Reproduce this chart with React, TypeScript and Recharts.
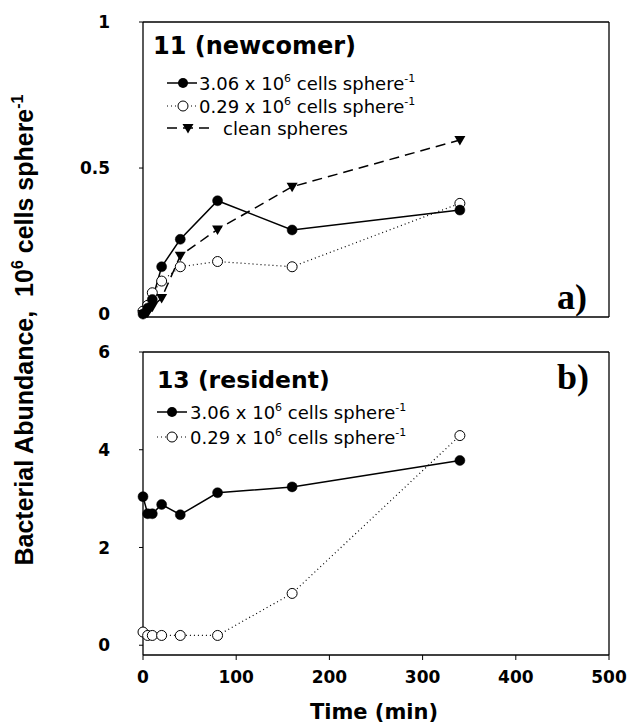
import React from 'react';
import { LineChart, Line, XAxis, YAxis, ReferenceLine } from 'recharts';

// ---- data ----
const times = [0, 5, 10, 20, 40, 80, 160, 340];
// panel a) strain 11 (newcomer), 10^6 cells sphere^-1
const aHigh = [0.0, 0.02, 0.05, 0.162, 0.256, 0.388, 0.288, 0.356];
const aLow = [0.01, 0.03, 0.073, 0.113, 0.162, 0.18, 0.162, 0.379];
const aClean = [0.0, 0.005, 0.025, 0.055, 0.2, 0.29, 0.436, 0.596];
// panel b) strain 13 (resident)
const bHigh = [3.04, 2.69, 2.69, 2.88, 2.67, 3.12, 3.24, 3.78];
const bLow = [0.27, 0.2, 0.2, 0.2, 0.2, 0.2, 1.06, 4.29];

const xTicks = [0, 100, 200, 300, 400, 500];
const aTicks = [0, 0.5, 1];
const bTicks = [0, 2, 4, 6];

const seriesLabelHigh = '3.06 x 10';
const seriesLabelLow = '0.29 x 10';
const seriesLabelClean = 'clean spheres';

const dataA = times.map((t, i) => ({ t, high: aHigh[i], low: aLow[i], clean: aClean[i] }));
const dataB = times.map((t, i) => ({ t, high: bHigh[i], low: bLow[i] }));

const tickFont = { fontFamily: 'DejaVu Sans', fontWeight: 700, fontSize: 17, fill: '#000' };
const axisStroke = { stroke: '#000', strokeWidth: 1.3 };

const filledDot = (p: any) => (
  <circle key={`f${p.index}`} cx={p.cx} cy={p.cy} r={5} fill="#000" stroke="#000" strokeWidth={0.5} />
);
const openDot = (p: any) => (
  <circle key={`o${p.index}`} cx={p.cx} cy={p.cy} r={5} fill="#fff" stroke="#000" strokeWidth={1} />
);
const triDot = (p: any) => (
  <polygon
    key={`t${p.index}`}
    points={`${p.cx - 5.5},${p.cy - 4} ${p.cx + 5.5},${p.cy - 4} ${p.cx},${p.cy + 5.5}`}
    fill="#000"
  />
);

const LegendLabel = ({ x, y, text }: { x: number; y: number; text: string }) => (
  <text x={x} y={y + 6.5} fontFamily="DejaVu Sans" fontSize={18} fill="#000" style={{ whiteSpace: 'pre' }}>
    {text}
    <tspan dy={-8} fontSize={11}>6</tspan>
    <tspan dy={8}> cells sphere</tspan>
    <tspan dy={-8} fontSize={11}>-1</tspan>
  </text>
);

export default function App() {
  return (
    <div style={{ position: 'absolute', left: 0, top: 0, width: 629, height: 726, background: '#fff' }}>
      <div style={{ position: 'absolute', left: 0, top: 0 }}>
        <LineChart width={629} height={330} data={dataA} margin={{ top: 22, right: 20, bottom: 0, left: 0 }}>
          <XAxis
            dataKey="t"
            type="number"
            domain={[0, 500]}
            ticks={xTicks}
            tick={false}
            tickSize={5}
            height={13}
            axisLine={axisStroke}
            tickLine={{ stroke: '#000' }}
          />
          <YAxis
            type="number"
            domain={[-0.01, 1]}
            ticks={aTicks}
            width={143}
            tickSize={4}
            tickMargin={29}
            tick={tickFont}
            axisLine={axisStroke}
            tickLine={{ stroke: '#000' }}
          />
          <ReferenceLine y={1} stroke="#000" strokeWidth={1.3} />
          <ReferenceLine x={500} stroke="#000" strokeWidth={1.3} />
          <Line dataKey="low" type="linear" stroke="#000" strokeWidth={1.2} strokeDasharray="1 3" dot={openDot} activeDot={false} isAnimationActive={false} />
          <Line dataKey="clean" type="linear" stroke="#000" strokeWidth={1.5} strokeDasharray="10 6" dot={triDot} activeDot={false} isAnimationActive={false} />
          <Line dataKey="high" type="linear" stroke="#000" strokeWidth={1.5} dot={filledDot} activeDot={false} isAnimationActive={false} />
        </LineChart>
      </div>
      <div style={{ position: 'absolute', left: 0, top: 330 }}>
        <LineChart width={629} height={396} data={dataB} margin={{ top: 22, right: 20, bottom: 0, left: 0 }}>
          <XAxis
            dataKey="t"
            type="number"
            domain={[0, 500]}
            ticks={xTicks}
            tickSize={5}
            tickMargin={11}
            height={71}
            tick={tickFont}
            axisLine={axisStroke}
            tickLine={{ stroke: '#000' }}
          />
          <YAxis
            type="number"
            domain={[-0.2, 6]}
            ticks={bTicks}
            width={143}
            tickSize={4}
            tickMargin={29}
            tick={tickFont}
            axisLine={axisStroke}
            tickLine={{ stroke: '#000' }}
          />
          <ReferenceLine y={6} stroke="#000" strokeWidth={1.3} />
          <ReferenceLine x={500} stroke="#000" strokeWidth={1.3} />
          <Line dataKey="low" type="linear" stroke="#000" strokeWidth={1.2} strokeDasharray="1 3" dot={openDot} activeDot={false} isAnimationActive={false} />
          <Line dataKey="high" type="linear" stroke="#000" strokeWidth={1.5} dot={filledDot} activeDot={false} isAnimationActive={false} />
        </LineChart>
      </div>
      <svg width={629} height={726} style={{ position: 'absolute', left: 0, top: 0, pointerEvents: 'none' }}>
        {/* y axis title */}
        <text
          x={33}
          y={330}
          transform="rotate(-90 33 330)"
          textAnchor="middle"
          fontFamily="Liberation Sans"
          fontWeight={700}
          fontSize={25}
          fill="#000"
          style={{ whiteSpace: 'pre' }}
        >
          {'Bacterial Abundance,  10'}
          <tspan dy={-10} fontSize={16}>6</tspan>
          <tspan dy={10}> cells sphere</tspan>
          <tspan dy={-10} fontSize={16}>-1</tspan>
        </text>
        {/* x axis title */}
        <text x={374} y={719} textAnchor="middle" fontFamily="DejaVu Sans" fontWeight={700} fontSize={21} fill="#000">
          Time (min)
        </text>
        {/* panel titles */}
        <text x={153} y={54} fontFamily="DejaVu Sans" fontWeight={700} fontSize={24} fill="#000">11 (newcomer)</text>
        <text x={157} y={388} fontFamily="DejaVu Sans" fontWeight={700} fontSize={23.5} fill="#000">13 (resident)</text>
        <text x={557} y={309} fontFamily="Liberation Serif" fontWeight={700} fontSize={36} fill="#000">a)</text>
        <text x={557} y={389} fontFamily="Liberation Serif" fontWeight={700} fontSize={36} fill="#000">b)</text>

        {/* legend a */}
        <line x1={167} y1={83} x2={197} y2={83} stroke="#000" strokeWidth={1.5} />
        <circle cx={183} cy={83} r={5} fill="#000" />
        <LegendLabel x={199} y={83} text={seriesLabelHigh} />
        <line x1={167} y1={106} x2={197} y2={106} stroke="#000" strokeWidth={1.2} strokeDasharray="1 3" />
        <circle cx={183} cy={106} r={5} fill="#fff" stroke="#000" />
        <LegendLabel x={199} y={106} text={seriesLabelLow} />
        <line x1={167} y1={128} x2={215} y2={128} stroke="#000" strokeWidth={1.5} strokeDasharray="10 6" />
        <polygon points="182.5,124 193.5,124 188,133.5" fill="#000" />
        <text x={223} y={134.5} fontFamily="DejaVu Sans" fontSize={18} fill="#000">{seriesLabelClean}</text>

        {/* legend b */}
        <line x1={157} y1={412} x2={187} y2={412} stroke="#000" strokeWidth={1.5} />
        <circle cx={172} cy={412} r={5} fill="#000" />
        <LegendLabel x={190} y={412} text={seriesLabelHigh} />
        <line x1={157} y1={437} x2={187} y2={437} stroke="#000" strokeWidth={1.2} strokeDasharray="1 3" />
        <circle cx={172} cy={437} r={5} fill="#fff" stroke="#000" />
        <LegendLabel x={190} y={437} text={seriesLabelLow} />
      </svg>
    </div>
  );
}
